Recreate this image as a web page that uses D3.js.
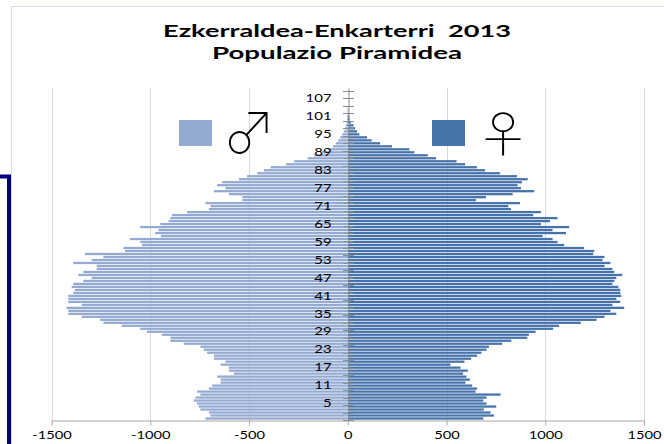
<!DOCTYPE html>
<html><head><meta charset="utf-8">
<script src="https://cdn.jsdelivr.net/npm/d3@7"></script>
<style>html,body{margin:0;padding:0;background:#fff;overflow:hidden}</style>
</head><body>
<svg id="chart" width="664" height="444"></svg>
<script>
// ---- data ----
const titleLines = ["Ezkerraldea-Enkarterri  2013", "Populazio Piramidea"];
const ages = d3.range(0, 111);
const ageLabels = [5, 11, 17, 23, 29, 35, 41, 47, 53, 59, 65, 71, 77, 83, 89, 95, 101, 107];
const xTicks = [-1500, -1000, -500, 0, 500, 1000, 1500];
const seriesNames = ["\u2642", "\u2640"];
// males (ages 0..110), shown to the left
const male = [720,695,703,746,754,763,780,771,746,763,
  703,686,644,644,661,576,602,602,644,619,
  678,678,712,729,746,831,898,898,941,1017,
  1051,1144,1237,1254,1347,1415,1415,1424,1347,1415,
  1415,1415,1390,1381,1398,1390,1339,1297,1364,1339,
  1271,1271,1390,1297,1237,1331,1127,1136,1042,1051,
  1102,946,975,958,1051,949,907,898,890,814,
  703,695,720,534,534,602,678,619,661,636,
  551,510,458,424,390,313,271,203,170,130,
  100,75,60,48,38,28,20,14,10,6,
  4,3,2,1,1,0,0,0,0,0,0];
// females (ages 0..110), shown to the right
const female = [686,740,723,689,752,703,686,703,774,647,
  655,630,596,618,601,584,608,571,520,591,
  625,655,677,703,715,782,828,909,917,951,
  1040,1070,1180,1260,1300,1360,1330,1400,1340,1380,
  1360,1385,1380,1380,1370,1340,1350,1360,1390,1350,
  1340,1300,1330,1290,1300,1243,1248,1197,1096,1062,
  1037,987,1105,1037,1121,978,1024,1062,939,978,
  826,813,872,649,700,835,944,877,860,882,
  911,857,771,695,654,594,551,447,405,337,
  312,224,164,121,98,59,47,37,29,17,
  10,7,3,2,1,0,0,0,0,0,0];

const colors = {male: "#95aad2", female: "#4773ab"};

const svg = d3.select("#chart");
const W = 664, H = 444;
const plot = {left: 51.5, right: 644, top: 88, bottom: 420};

// frame
svg.append("rect").attr("x", 11.5).attr("y", 6.5).attr("width", W).attr("height", H)
  .attr("fill", "none").attr("stroke", "#d6dfec").attr("stroke-width", 1);
svg.append("path").attr("d", "M-2,176.5 H9 V450").attr("fill", "none")
  .attr("stroke", "#000080").attr("stroke-width", 4);

const x = d3.scaleLinear().domain([-1500, 1500]).range([plot.left, plot.right]);
const y = d3.scaleBand().domain(ages).range([plot.bottom, plot.top]).paddingInner(0);
const bw = y.bandwidth();

// gridlines
svg.append("g").selectAll("line").data(xTicks.filter(d => d !== 0)).join("line")
  .attr("x1", d => Math.round(x(d)) + 0.5).attr("x2", d => Math.round(x(d)) + 0.5)
  .attr("y1", plot.top).attr("y2", plot.bottom)
  .attr("stroke", "#d9d9d9").attr("stroke-width", 1);

// bars
const gBars = svg.append("g");
gBars.selectAll("rect.m").data(ages).join("rect").attr("class", "m")
  .attr("x", d => x(-male[d])).attr("width", d => x(0) - x(-male[d]))
  .attr("y", d => y(d) + bw * 0.12).attr("height", bw * 0.76)
  .attr("fill", colors.male);
gBars.selectAll("rect.f").data(ages).join("rect").attr("class", "f")
  .attr("x", x(0)).attr("width", d => x(female[d]) - x(0))
  .attr("y", d => y(d) + bw * 0.12).attr("height", bw * 0.76)
  .attr("fill", colors.female);

// x axis
const xAxis = svg.append("g").attr("transform", `translate(0,${plot.bottom + 0.5})`)
  .call(d3.axisBottom(x).tickValues(xTicks).tickFormat(d => String(d))
    .tickSize(5).tickPadding(5).tickSizeOuter(0));
xAxis.select(".domain").attr("stroke", "#a6a6a6");
xAxis.selectAll(".tick line").attr("stroke", "#a6a6a6");
xAxis.selectAll(".tick text").attr("font-family", "Lato, 'Open Sans', sans-serif")
  .attr("font-size", 11.5).attr("fill", "#000").attr("transform", "scale(1.28,1)");

// y axis
const x0 = Math.round(x(0)) + 0.5;
const yAxis = svg.append("g").attr("transform", `translate(${x0},0)`)
  .call(d3.axisLeft(y).tickValues(ageLabels).tickSize(0).tickPadding(13));
yAxis.select(".domain").attr("stroke", "#8c8c8c");
yAxis.selectAll(".tick text").attr("font-family", "Lato, 'Open Sans', sans-serif")
  .attr("font-size", 11.5).attr("fill", "#000").attr("transform", "scale(1.3,1)");
const yl = d3.scaleLinear().domain([0, ages.length]).range([plot.bottom, plot.top]);
svg.append("g").selectAll("line").data(d3.range(0, 45)).join("line")
  .attr("x1", x0 - 5.5).attr("x2", x0 + 5.5)
  .attr("y1", d => Math.round(yl(d * 2.5)) + 0.5).attr("y2", d => Math.round(yl(d * 2.5)) + 0.5)
  .attr("stroke", "#8c8c8c").attr("stroke-width", 1);

// title
const tl = [{t: titleLines[0], y: 36.7, w: 348}, {t: titleLines[1], y: 58.5, w: 250}];
svg.append("g").selectAll("text").data(tl).join("text")
  .attr("x", 337).attr("y", d => d.y).attr("text-anchor", "middle")
  .style("white-space", "pre")
  .attr("font-family", "Lato, 'Open Sans', sans-serif").attr("font-weight", "bold")
  .attr("font-size", 16.8).attr("fill", "#000")
  .attr("textLength", d => d.w).attr("lengthAdjust", "spacingAndGlyphs")
  .text(d => d.t);

// legend
svg.append("rect").attr("x", 179).attr("y", 120).attr("width", 33).attr("height", 26).attr("fill", colors.male);
svg.append("rect").attr("x", 432).attr("y", 120).attr("width", 33).attr("height", 26).attr("fill", colors.female);
svg.append("text").attr("transform", "translate(249,153) scale(0.95,1)").attr("text-anchor", "middle")
  .attr("font-family", "'Noto Sans CJK JP', 'DejaVu Sans', sans-serif").attr("font-weight", 100)
  .attr("font-size", 56).attr("fill", "#000").text(seriesNames[0]);
svg.append("text").attr("transform", "translate(503,152) scale(1.15,1)").attr("text-anchor", "middle")
  .attr("font-family", "'Noto Sans CJK JP', 'DejaVu Sans', sans-serif").attr("font-weight", 100)
  .attr("font-size", 48).attr("fill", "#000").text(seriesNames[1]);
</script>
</body></html>
